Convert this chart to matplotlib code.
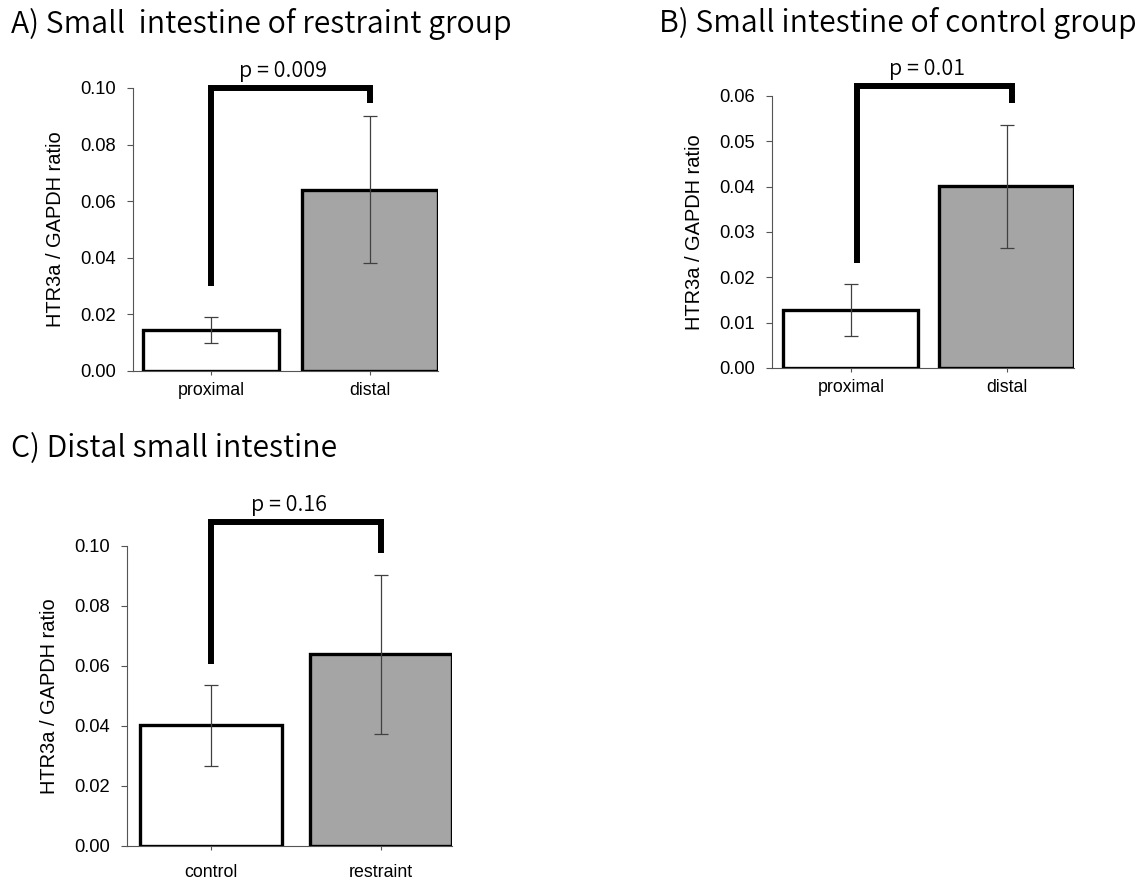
import matplotlib
matplotlib.use('Agg')
import matplotlib.pyplot as plt

plt.rcParams.update({
    'font.family': ['Liberation Sans', 'DejaVu Sans'],
    'font.size': 13,
})
JP = ['Noto Sans CJK JP', 'DejaVu Sans']

# ---------------------------------------------------------------------------
# data (HTR3a / GAPDH ratio, mean and error)
# ---------------------------------------------------------------------------
titles = ["A) Small  intestine of restraint group",
          "B) Small intestine of control group",
          "C) Distal small intestine"]
labels_a = ["proximal", "distal"]
labels_b = ["proximal", "distal"]
labels_c = ["control", "restraint"]

mean_a = [0.0145, 0.064]
err_a = [0.0045, 0.026]
mean_b = [0.0128, 0.0401]
err_b = [0.0057, 0.0136]
mean_c = [0.0403, 0.0639]
err_c = [0.0135, 0.0265]

# significance bracket: left foot, top, right foot
brk_a = [0.030, 0.100, 0.0947]
brk_b = [0.0231, 0.0622, 0.0585]
brk_c = [0.0606, 0.1079, 0.0976]
pvals = ["p = 0.009", "p = 0.01", "p = 0.16"]

yticks_a = [0.00, 0.02, 0.04, 0.06, 0.08, 0.10]
yticks_b = [0.00, 0.01, 0.02, 0.03, 0.04, 0.05, 0.06]
yticks_c = [0.00, 0.02, 0.04, 0.06, 0.08, 0.10]

W, H = 1147, 881
fig = plt.figure(figsize=(W / 100, H / 100), dpi=100)


def px_axes(l, r, top, bot):
    return fig.add_axes([l / W, (H - bot) / H, (r - l) / W, (bot - top) / H])


def panel(ax, labels, mean, err, brk, ptxt, yticks, width, xlim, bx, xpad=5):
    x = range(len(labels))
    ax.bar(x, mean, width=width, color=['white', '#a5a5a5'],
           edgecolor='black', linewidth=2.4, zorder=3)
    ax.errorbar(x, mean, yerr=err, fmt='none', ecolor='#404040',
                elinewidth=0.9, capsize=4.7, capthick=0.9, zorder=4)
    ax.set_xlim(*xlim)
    ax.set_ylim(yticks[0], yticks[-1])
    ax.set_yticks(yticks)
    ax.set_yticklabels([f"{t:.2f}" for t in yticks], fontsize=13.2)
    ax.set_xticks(list(x))
    ax.set_xticklabels(labels, fontsize=12.8)
    ax.set_ylabel("HTR3a / GAPDH ratio", fontsize=14.4, labelpad=11)
    for s in ['top', 'right']:
        ax.spines[s].set_visible(False)
    for s in ['left', 'bottom']:
        ax.spines[s].set_color('#555555')
        ax.spines[s].set_linewidth(0.8)
    ax.tick_params(axis='y', length=4.3, width=0.8, color='#555555', pad=8)
    ax.tick_params(axis='x', length=3, width=0.8, color='#555555', pad=xpad)
    ax.plot([bx[0], bx[0], bx[1], bx[1]], [brk[0], brk[1], brk[1], brk[2]],
            color='black', lw=4.3, solid_joinstyle='miter',
            solid_capstyle='butt', clip_on=False, zorder=5)
    ax.annotate(ptxt, xy=((bx[0] + bx[1]) / 2, brk[1]), xytext=(-5, 8),
                textcoords='offset points', ha='center', va='baseline',
                fontsize=15.5, family=JP, fontweight=350,
                annotation_clip=False)


ax_a = px_axes(133, 438, 88, 371)
panel(ax_a, labels_a, mean_a, err_a, brk_a, pvals[0], yticks_a,
      0.85, (-0.49, 1.428), (0.0, 1.0))

ax_b = px_axes(772, 1074, 96, 368)
panel(ax_b, labels_b, mean_b, err_b, brk_b, pvals[1], yticks_b,
      0.865, (-0.506, 1.43), (0.04, 1.03))

ax_c = px_axes(127, 452, 546, 846)
panel(ax_c, labels_c, mean_c, err_c, brk_c, pvals[2], yticks_c,
      0.84, (-0.494, 1.418), (0.0, 1.0), xpad=10)

tkw = dict(fontsize=22, family=JP, fontweight=350, va='baseline')
t_a = fig.text(11 / W, 1 - 33 / H, titles[0], **tkw)
t_b = fig.text(659 / W, 1 - 32 / H, titles[1], **tkw)
t_c = fig.text(11 / W, 1 - 457 / H, titles[2], **tkw)

# the reference title font is wider than Noto; size the titles to its width
fig.canvas.draw()
r = fig.canvas.get_renderer()
fs_t = 22 * 477 / t_b.get_window_extent(r).width
for t in (t_a, t_b, t_c):
    t.set_fontsize(fs_t)

fig.savefig('out.png', dpi=100)
